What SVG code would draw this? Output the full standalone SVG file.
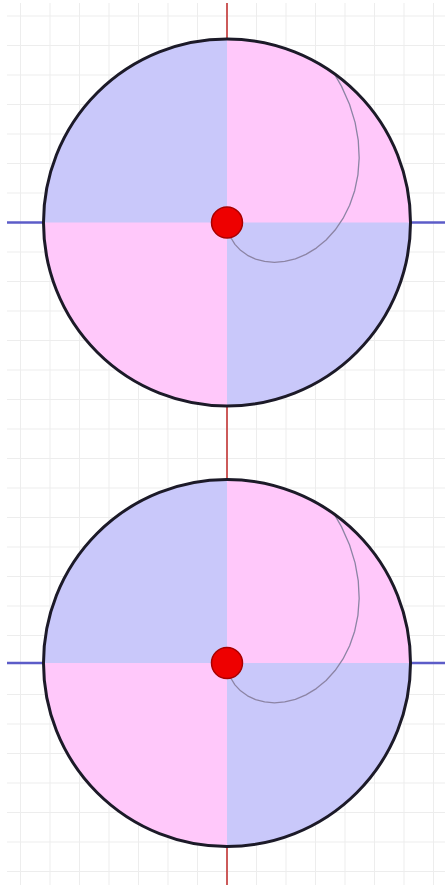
<svg xmlns="http://www.w3.org/2000/svg" width="445" height="885" viewBox="0 0 445 885">
<defs>
<style>
.grid line{stroke:#ededed;stroke-width:1}
.disc{fill:none;stroke:#1c1a28;stroke-width:3}
.qb{fill:#c9c8fa}
.qp{fill:#ffc8fa}
.spiral{fill:none;stroke:#8c84a4;stroke-width:1.3;stroke-linejoin:round;stroke-linecap:round}
.dot{fill:#ee0000;stroke:#a80000;stroke-width:1.5}
.axv{stroke:#cc5a5a;stroke-width:2}
.axh{stroke:#5c5cc8;stroke-width:2.5}
</style>
<clipPath id="disc"><circle cx="0" cy="0" r="183.5"/></clipPath>
<g id="wheel">
<g clip-path="url(#disc)">
<rect class="qp" x="-190" y="-190" width="380" height="380"/>
<rect class="qb" x="-190" y="-190" width="190" height="190"/>
<rect class="qb" x="0" y="0" width="190" height="190"/>
</g>
<polyline class="spiral" points="0,0 1.08,7.66 3.74,15.02 7.94,21.82 13.57,27.83 20.51,32.82 28.59,36.6 37.64,38.97 47.43,39.8 57.75,38.95 68.34,36.34 78.94,31.89 89.28,25.6 99.09,17.47 108.1,7.56 116.03,-4.05 122.64,-17.24 127.67,-31.83 130.92,-47.65 132.18,-64.47 131.27,-82.03 128.08,-100.07 122.49,-118.29 114.43,-136.37 107.67,-148.19"/>
<circle class="disc" cx="0" cy="0" r="183.5"/>
<circle class="dot" cx="0" cy="0" r="15.5"/>
</g>
</defs>
<rect x="0" y="0" width="445" height="885" fill="#ffffff"/>
<g class="grid">
<line x1="20.5" y1="3" x2="20.5" y2="885"/><line x1="50" y1="3" x2="50" y2="885"/><line x1="79.5" y1="3" x2="79.5" y2="885"/><line x1="109" y1="3" x2="109" y2="885"/><line x1="138.5" y1="3" x2="138.5" y2="885"/><line x1="168" y1="3" x2="168" y2="885"/><line x1="197.5" y1="3" x2="197.5" y2="885"/><line x1="256.5" y1="3" x2="256.5" y2="885"/><line x1="286" y1="3" x2="286" y2="885"/><line x1="315.5" y1="3" x2="315.5" y2="885"/><line x1="345" y1="3" x2="345" y2="885"/><line x1="374.5" y1="3" x2="374.5" y2="885"/><line x1="404" y1="3" x2="404" y2="885"/><line x1="433.5" y1="3" x2="433.5" y2="885"/>
<line x1="7" y1="16" x2="445" y2="16"/><line x1="7" y1="45.5" x2="445" y2="45.5"/><line x1="7" y1="75" x2="445" y2="75"/><line x1="7" y1="104.5" x2="445" y2="104.5"/><line x1="7" y1="134" x2="445" y2="134"/><line x1="7" y1="163.5" x2="445" y2="163.5"/><line x1="7" y1="193" x2="445" y2="193"/><line x1="7" y1="252" x2="445" y2="252"/><line x1="7" y1="281.5" x2="445" y2="281.5"/><line x1="7" y1="311" x2="445" y2="311"/><line x1="7" y1="340.5" x2="445" y2="340.5"/><line x1="7" y1="370" x2="445" y2="370"/><line x1="7" y1="399.5" x2="445" y2="399.5"/><line x1="7" y1="429" x2="445" y2="429"/><line x1="7" y1="458.5" x2="445" y2="458.5"/><line x1="7" y1="488" x2="445" y2="488"/><line x1="7" y1="517.5" x2="445" y2="517.5"/><line x1="7" y1="547" x2="445" y2="547"/><line x1="7" y1="576.5" x2="445" y2="576.5"/><line x1="7" y1="606" x2="445" y2="606"/><line x1="7" y1="635.5" x2="445" y2="635.5"/><line x1="7" y1="694.5" x2="445" y2="694.5"/><line x1="7" y1="724" x2="445" y2="724"/><line x1="7" y1="753.5" x2="445" y2="753.5"/><line x1="7" y1="783" x2="445" y2="783"/><line x1="7" y1="812.5" x2="445" y2="812.5"/><line x1="7" y1="842" x2="445" y2="842"/><line x1="7" y1="871.5" x2="445" y2="871.5"/>
</g>
<g id="connectors">
<line class="axv" x1="227" y1="3" x2="227" y2="885"/>
<line class="axh" x1="7" y1="222.5" x2="445" y2="222.5"/>
<line class="axh" x1="7" y1="663" x2="445" y2="663"/>
</g>
<g id="wheel-top"><use href="#wheel" x="227" y="222.5"/></g>
<g id="wheel-bottom"><use href="#wheel" x="227" y="663"/></g>
</svg>
